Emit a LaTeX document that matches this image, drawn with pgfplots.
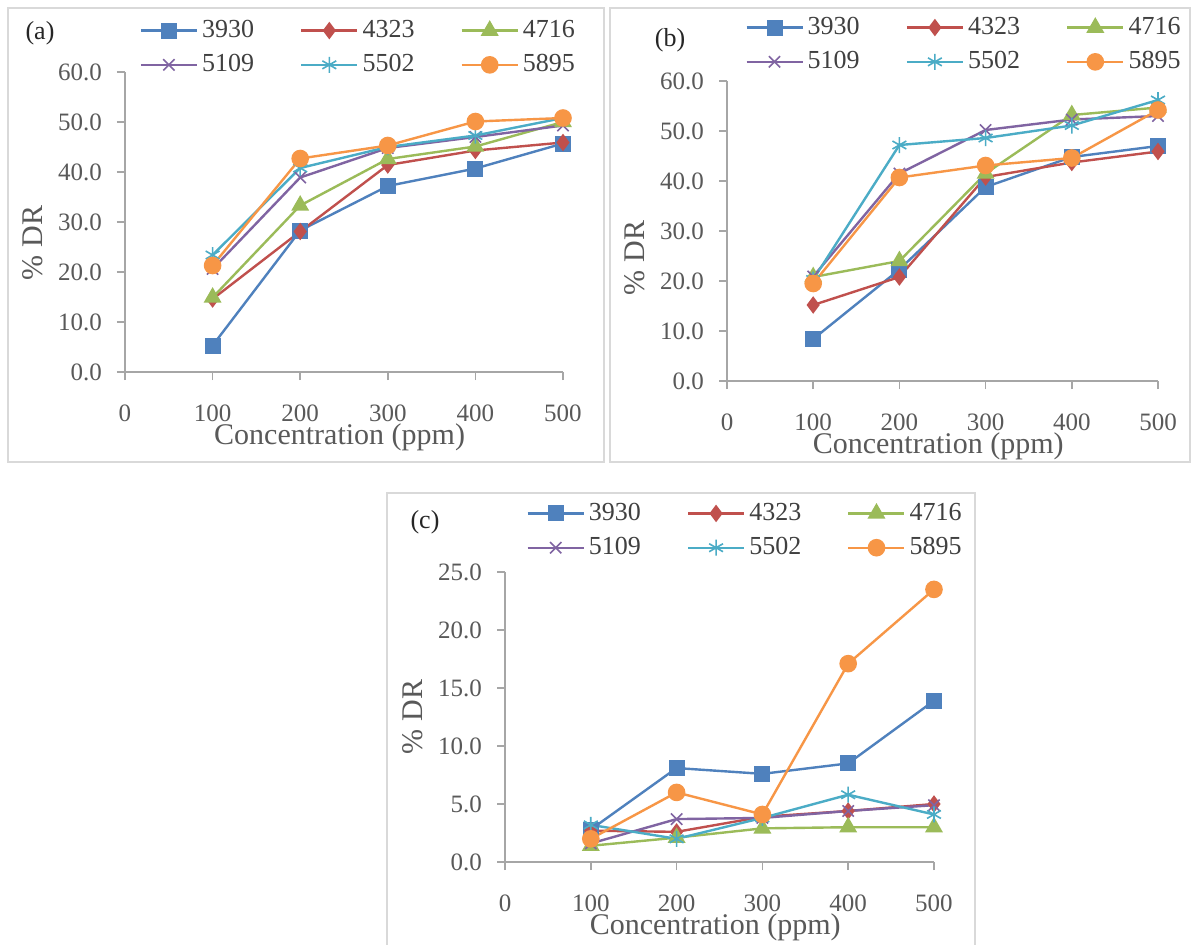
\documentclass[border=0pt]{standalone}
\usepackage{fontspec}
\setmainfont{Liberation Serif}
\usepackage{pgfplots}
\pgfplotsset{compat=1.18}
\definecolor{cA}{HTML}{4F81BD}
\definecolor{cB}{HTML}{C0504D}
\definecolor{cC}{HTML}{9BBB59}
\definecolor{cD}{HTML}{8064A2}
\definecolor{cE}{HTML}{4BACC6}
\definecolor{cF}{HTML}{F79646}
\definecolor{axgray}{HTML}{A6A6A6}
\definecolor{txtgray}{HTML}{595959}
\definecolor{legtxt}{HTML}{404040}
\definecolor{framegray}{HTML}{D9D9D9}

\pgfplotsset{
  panel/.style={
    scale only axis,
    axis x line*=bottom, axis y line*=left,
    axis line style={axgray, line width=0.8pt},
    xmin=0, xmax=500, xtick={0,100,...,500},
    tick style={axgray, line width=0.8pt},
    tick align=outside, major tick length=4pt,
    x tick label style={yshift=-9pt},
    y tick label style={xshift=-4pt},
    tick label style={font=\fontsize{12.5}{14}\selectfont, text=txtgray},
    y tick label style={/pgf/number format/.cd, fixed, fixed zerofill, precision=1},
    /pgf/number format/assume math mode=true,
    xlabel={Concentration (ppm)}, ylabel={\% DR},
    every axis x label/.style={at={(axis description cs:0.49,0)}, yshift=-32.5pt, anchor=center,
      font=\fontsize{15}{17}\selectfont, text=txtgray},
    every axis y label/.style={at={(axis description cs:0,0.5)}, xshift=-46pt, rotate=90, anchor=center,
      font=\fontsize{15}{17}\selectfont, text=txtgray},
    legend columns=3,
    legend cell align=left,
    legend style={draw=none, fill=none, font=\fontsize{13}{15}\selectfont, text=legtxt,
      row sep=3pt,
      /tikz/every even column/.append style={column sep=21pt}},
    legend image code/.code={\draw[mark repeat=2,mark phase=2] plot coordinates {(0pt,0pt) (14pt,0pt) (28pt,0pt)};},
    every axis plot/.append style={line width=1.2pt},
  },
  sA/.style={cA, mark=square*, mark size=3.4pt, mark options={solid}},
  sB/.style={cB, mark=diamond*, mark size=3.4pt, mark options={solid}},
  sC/.style={cC, mark=triangle*, mark size=4pt, mark options={solid}},
  sD/.style={cD, mark=x, mark size=4pt, mark options={solid, line width=0.8pt}},
  sE/.style={cE, mark=asterisk, mark size=4pt, mark options={solid, line width=0.8pt}},
  sF/.style={cF, mark=*, mark size=3.8pt, mark options={solid}},
}

\begin{document}
\begin{tikzpicture}[x=0.5pt, y=-0.5pt]
\path[use as bounding box] (0,0) rectangle (1196,944);
\fill[white] (0,0) rectangle (1196,944);
\draw[framegray, line width=0.8pt] (8,8) rectangle (604,462);
\draw[framegray, line width=0.8pt] (610,8) rectangle (1190,462);
\draw[framegray, line width=0.8pt] (387,493) rectangle (975,960);
\coordinate (pa) at (125,372);
\coordinate (pb) at (727,381);
\coordinate (pc) at (505,862);

% (a)
\begin{axis}[panel, at={(pa)}, anchor=south west, width=219pt, height=150pt,
  ymin=0, ymax=60, ytick={0,10,...,60},
  every axis y label/.append style={at={(axis description cs:0,0.43)}},
  legend style={at={(0.535,1.2)}, anchor=north}]
\addplot[sA] coordinates {(100,5.3) (200,28.3) (300,37.2) (400,40.7) (500,45.7)};
\addplot[sB] coordinates {(100,14.6) (200,28.1) (300,41.4) (400,44.3) (500,45.9)};
\addplot[sC] coordinates {(100,14.9) (200,33.3) (300,42.6) (400,45.1) (500,50.0)};
\addplot[sD] coordinates {(100,20.6) (200,38.9) (300,44.8) (400,47.0) (500,49.3)};
\addplot[sE] coordinates {(100,23.4) (200,40.8) (300,45.0) (400,47.3) (500,50.8)};
\addplot[sF] coordinates {(100,21.3) (200,42.7) (300,45.3) (400,50.1) (500,50.8)};
\legend{3930,4323,4716,5109,5502,5895}
\end{axis}

% (b)
\begin{axis}[panel, at={(pb)}, anchor=south west, width=215.5pt, height=150pt,
  ymin=0, ymax=60, ytick={0,10,...,60},
  every axis y label/.append style={at={(axis description cs:0,0.41)}},
  legend style={at={(0.552,1.24)}, anchor=north}]
\addplot[sA] coordinates {(100,8.4) (200,22.3) (300,38.8) (400,44.8) (500,47.0)};
\addplot[sB] coordinates {(100,15.2) (200,20.8) (300,40.8) (400,43.7) (500,45.9)};
\addplot[sC] coordinates {(100,20.8) (200,24.0) (300,41.5) (400,53.2) (500,54.7)};
\addplot[sD] coordinates {(100,20.9) (200,41.5) (300,50.2) (400,52.3) (500,53.0)};
\addplot[sE] coordinates {(100,20.3) (200,47.2) (300,48.6) (400,51.1) (500,56.2)};
\addplot[sF] coordinates {(100,19.5) (200,40.7) (300,43.1) (400,44.6) (500,54.2)};
\legend{3930,4323,4716,5109,5502,5895}
\end{axis}

% (c)
\begin{axis}[panel, at={(pc)}, anchor=south west, width=214.5pt, height=145pt,
  ymin=0, ymax=25, ytick={0,5,...,25},
  legend style={at={(0.562,1.266)}, anchor=north}]
\addplot[sA] coordinates {(100,2.8) (200,8.1) (300,7.6) (400,8.5) (500,13.9)};
\addplot[sB] coordinates {(100,2.7) (200,2.6) (300,3.9) (400,4.4) (500,5.0)};
\addplot[sC] coordinates {(100,1.4) (200,2.1) (300,2.9) (400,3.0) (500,3.0)};
\addplot[sD] coordinates {(100,1.6) (200,3.7) (300,3.8) (400,4.4) (500,4.9)};
\addplot[sE] coordinates {(100,3.2) (200,2.0) (300,3.8) (400,5.8) (500,4.1)};
\addplot[sF] coordinates {(100,2.0) (200,6.0) (300,4.1) (400,17.1) (500,23.5)};
\legend{3930,4323,4716,5109,5502,5895}
\end{axis}

\node[font=\fontsize{13}{15}\selectfont, text=black!85] at (40,33) {(a)};
\node[font=\fontsize{13}{15}\selectfont, text=black!85] at (670,40) {(b)};
\node[font=\fontsize{13}{15}\selectfont, text=black!85] at (425,522) {(c)};
\end{tikzpicture}
\end{document}
